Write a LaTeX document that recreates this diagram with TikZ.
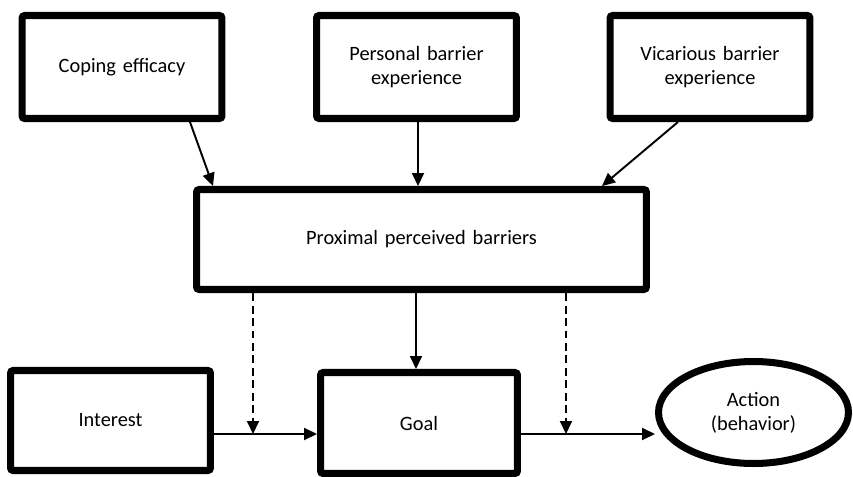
\documentclass[tikz,border=0pt]{standalone}
\usepackage{fontspec}
\setmainfont{Carlito}
\usetikzlibrary{arrows.meta,calc,shapes.geometric}

\begin{document}
\begin{tikzpicture}[
    x=0.02cm, y=-0.02cm,
    factor/.style={rectangle, draw=black, line width=4pt, rounded corners=1.5pt, text width=3.7cm, text centered, minimum width=4cm, minimum height=2.06cm, font=\fontsize{11.6}{13.8}\selectfont},
    barrier/.style={factor, text width=8.6cm, minimum width=9cm, minimum height=2cm},
    outcome/.style={ellipse, draw=black, line width=4pt, align=center, inner sep=0pt, minimum width=3.8cm, minimum height=2.04cm, font=\fontsize{11.6}{13.8}\selectfont},
    arrow/.style={-{Triangle[length=0.26cm,width=0.24cm]}, line width=1.1pt},
    modarrow/.style={arrow, dash pattern=on 0.16cm off 0.09cm}
]
\useasboundingbox (0,0) rectangle (853,477);

% Sources of barriers
\node[factor] (coping) at (122,67) {Coping efficacy};
\node[factor] (personal) at (416.5,67) {Personal barrier\\experience};
\node[factor] (vicarious) at (710,67) {Vicarious barrier\\experience};

% Perceived barriers
\node[barrier] (proximal) at (421.5,239.5) {Proximal perceived barriers};

% Choice model
\node[factor, minimum height=2cm] (interest) at (110.5,420.5) {Interest};
\node[factor, minimum width=3.94cm, minimum height=2.02cm] (goal) at (419,423) {Goal};
\node[outcome] (action) at (753.5,412.5) {Action\\(behavior)};

% Moderation points
\coordinate (mod1) at (253,434);
\coordinate (mod2) at (566,434);

% Connections
\draw[arrow] (coping.south -| 190,0) -- (proximal.north -| 213,0);
\draw[arrow] (personal.south -| 418,0) -- (proximal.north -| 418,0);
\draw[arrow] (vicarious.south -| 678,0) -- (proximal.north -| 602,0);
\draw[arrow] (proximal.south -| 416,0) -- (goal.north -| 416,0);
\draw[arrow] (interest.east |- mod1) -- (goal.west |- mod1);
\draw[arrow] (goal.east |- mod2) -- (action.west |- mod2);

% Moderating paths
\draw[modarrow] (proximal.south -| mod1) -- (mod1);
\draw[modarrow] (proximal.south -| mod2) -- (mod2);

\end{tikzpicture}
\end{document}
